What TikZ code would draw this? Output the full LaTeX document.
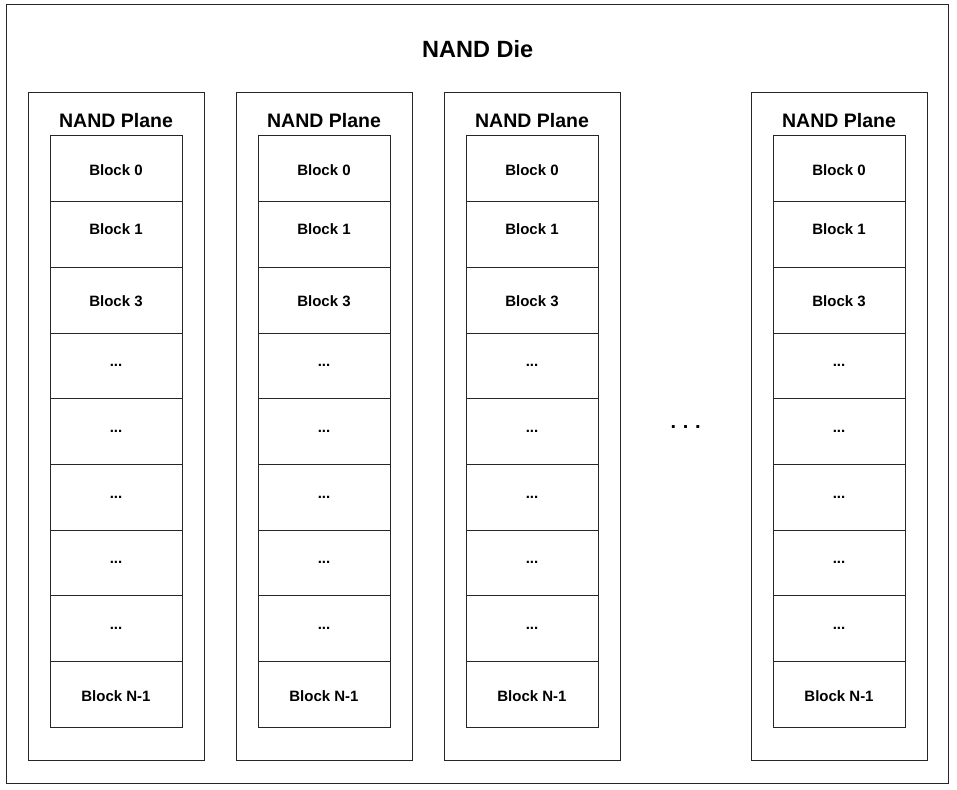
\documentclass[tikz,border=0pt]{standalone}
\usepackage{fontspec}
\setmainfont{Liberation Sans}
\newcommand\mydots{...}
\begin{document}
\begin{tikzpicture}[x=1pt,y=-1pt,
  frame/.style={draw=black!85,line width=1pt,fill=white},
  blockbox/.style={draw=black!85,line width=1pt,minimum width=132pt,minimum height=65.67pt,inner sep=0pt,font=\bfseries\fontsize{15}{17}\selectfont},
  title/.style={font=\bfseries\fontsize{19.5}{22}\selectfont,inner sep=0pt}]
\useasboundingbox (0,0) rectangle (957,789);
\draw[frame] (6,5) rectangle (948,783);
\node[title,font=\bfseries\fontsize{23.5}{27}\selectfont] (die) at (477.7,48.7) {NAND Die};
\foreach \px/\nm in {28/a,236/b,444/c,751/d}{
  \draw[frame] (\px,93) rectangle (\px+176,760);
  \node[title] (title-\nm) at (\px+88,120.8) {NAND Plane};
  \foreach \i/\t/\dy in {0/Block 0/-1,1/Block 1/5,2/Block 3/-1.3,3/\mydots/0,4/\mydots/0,5/\mydots/0,6/\mydots/0,7/\mydots/0,8/Block N-1/-1.5}{
    \node[blockbox] (blk-\nm-\i) at (\px+88,136+32.83+65.67*\i) {\raisebox{\dy pt}[\height][\depth]{\t}};
  }
}
\node[font=\bfseries\fontsize{20}{22}\selectfont,anchor=base,inner sep=0pt] (gap) at (685.7,428.7) {.\hspace{6.7pt}.\hspace{6.7pt}.};
\end{tikzpicture}
\end{document}
